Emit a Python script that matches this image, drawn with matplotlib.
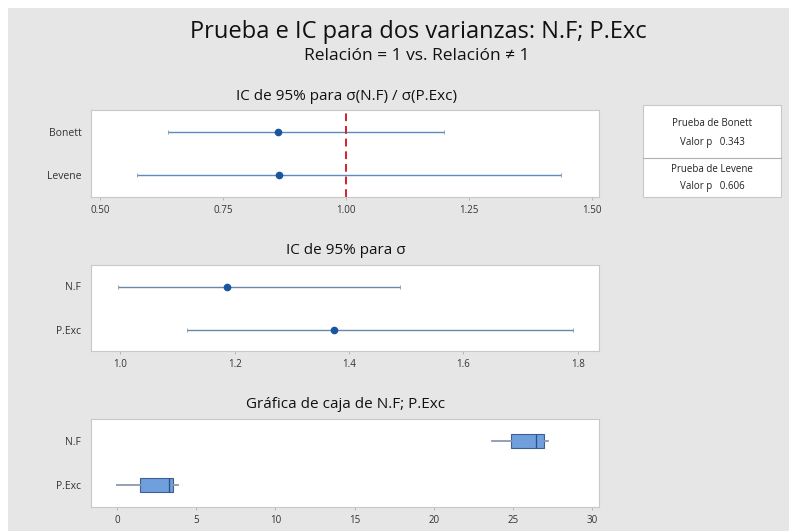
import matplotlib
matplotlib.use("Agg")
import matplotlib.pyplot as plt
from matplotlib.patches import Rectangle
from matplotlib.lines import Line2D

plt.rcParams['font.family'] = ['Open Sans', 'DejaVu Sans']

# ---------------- data ----------------
ratio_methods = ["Bonett", "Levene"]
ratio_est = [0.862, 0.864]
ratio_lo = [0.638, 0.575]
ratio_hi = [1.199, 1.437]
ratio_ticks = [0.50, 0.75, 1.00, 1.25, 1.50]

sigma_groups = ["N.F", "P.Exc"]
sigma_est = [1.186, 1.373]
sigma_lo = [0.996, 1.116]
sigma_hi = [1.490, 1.791]
sigma_ticks = [1.0, 1.2, 1.4, 1.6, 1.8]

box_groups = ["N.F", "P.Exc"]
box_min = [23.7, 0.0]
box_q1 = [24.9, 1.45]
box_med = [26.45, 3.3]
box_q3 = [26.95, 3.5]
box_max = [27.2, 3.85]
box_ticks = [0, 5, 10, 15, 20, 25, 30]

test_names = ["Prueba de Bonett", "Prueba de Levene"]
p_values = [0.343, 0.606]

# ---------------- layout helpers ----------------
W, H = 789, 531
fig = plt.figure(figsize=(W / 100, H / 100), dpi=100)
fig.patch.set_facecolor("white")

BG = "#e6e6e6"
fig.patches.append(Rectangle((8 / W, 0), 1 - 8 / W, 1 - 8 / H, transform=fig.transFigure,
                             facecolor=BG, edgecolor="none", zorder=-10))


def fx(x):
    return x / W


def fy(y):
    return 1 - y / H


def add_ax(x0, x1, y0, y1):
    ax = fig.add_axes([fx(x0), fy(y1), fx(x1) - fx(x0), (y1 - y0) / H])
    ax.set_facecolor("white")
    for s in ax.spines.values():
        s.set_color("#c8c8c8")
        s.set_linewidth(0.8)
    ax.tick_params(axis="x", length=2.5, width=0.6, color="#b0b0b0", labelsize=7,
                   labelcolor="#333333", pad=3)
    ax.tick_params(axis="y", length=0, labelsize=7.5, labelcolor="#333333", pad=7)
    return ax


LINE_C = "#5b8cc0"
PT_C = "#1a56a0"

# main titles
fig.text(fx(418), fy(32), "Prueba e IC para dos varianzas: N.F; P.Exc", ha="center", va="center",
         fontsize=17, color="#111111", fontweight="medium")
fig.text(fx(417), fy(56), "Relación = 1 vs. Relación \u2260 1", ha="center", va="center",
         fontsize=12.5, color="#111111", fontweight="medium")

# ---------------- panel 1 ----------------
ax1 = add_ax(91, 599, 110, 197)
ypos = [1, 0]
for i, m in enumerate(ratio_methods):
    ax1.hlines(ypos[i], ratio_lo[i], ratio_hi[i], color=LINE_C, lw=1.0)
    ax1.plot([ratio_lo[i], ratio_hi[i]], [ypos[i]] * 2, "|", color="#7f98b5", ms=3, mew=0.6)
    ax1.plot(ratio_est[i], ypos[i], "o", color=PT_C, ms=4.5)
ax1.axvline(1.0, color="#d0202f", lw=1.4, ls=(0, (4, 2.5)))
ax1.set_xlim(0.482, 1.514)
ax1.set_ylim(-0.5, 1.5)
ax1.set_xticks(ratio_ticks)
ax1.set_xticklabels([f"{t:.2f}" for t in ratio_ticks])
ax1.set_yticks(ypos)
ax1.set_yticklabels(ratio_methods)
fig.text(fx(346), fy(96), "IC de 95% para \u03c3(N.F) / \u03c3(P.Exc)", ha="center", va="center",
         fontsize=11, color="#111111")

# ---------------- panel 2 ----------------
ax2 = add_ax(91, 599, 265, 351)
for i, g in enumerate(sigma_groups):
    ax2.hlines(ypos[i], sigma_lo[i], sigma_hi[i], color="#6a86a8", lw=1.0)
    ax2.plot([sigma_lo[i], sigma_hi[i]], [ypos[i]] * 2, "|", color="#7f98b5", ms=3, mew=0.6)
    ax2.plot(sigma_est[i], ypos[i], "o", color=PT_C, ms=4.5)
ax2.set_xlim(0.949, 1.837)
ax2.set_ylim(-0.5, 1.5)
ax2.set_xticks(sigma_ticks)
ax2.set_xticklabels([f"{t:.1f}" for t in sigma_ticks])
ax2.set_yticks(ypos)
ax2.set_yticklabels(sigma_groups)
fig.text(fx(346), fy(251), "IC de 95% para \u03c3", ha="center", va="center",
         fontsize=11, color="#111111")

# ---------------- panel 3 ----------------
ax3 = add_ax(91, 599, 419, 507)
stats = []
for i, g in enumerate(box_groups):
    stats.append(dict(label=g, whislo=box_min[i], q1=box_q1[i], med=box_med[i],
                      q3=box_q3[i], whishi=box_max[i], fliers=[]))
ax3.bxp(stats, positions=ypos, vert=False, widths=0.32, patch_artist=True, showcaps=False,
        boxprops=dict(facecolor="#6f9fdc", edgecolor="#3d5f92", linewidth=0.8),
        medianprops=dict(color="#2f4f80", linewidth=0.9),
        whiskerprops=dict(color="#8a9ab0", linewidth=1.3))
ax3.set_xlim(-1.65, 30.44)
ax3.set_ylim(-0.5, 1.5)
ax3.set_xticks(box_ticks)
ax3.set_xticklabels([str(t) for t in box_ticks])
ax3.set_yticks(ypos)
ax3.set_yticklabels(box_groups)
fig.text(fx(346), fy(405), "Gráfica de caja de N.F; P.Exc", ha="center", va="center",
         fontsize=11, color="#111111")

# ---------------- p-value table ----------------
bx0, bx1, by0, by1, bmid = 643, 781, 105, 197, 158
fig.patches.append(Rectangle((fx(bx0), fy(by1)), fx(bx1) - fx(bx0), (by1 - by0) / H,
                             transform=fig.transFigure, facecolor="white",
                             edgecolor="#c8c8c8", lw=0.8))
fig.lines.append(Line2D([fx(bx0), fx(bx1)], [fy(bmid), fy(bmid)], transform=fig.transFigure,
                        color="#b0b0b0", lw=0.8))
cx = (bx0 + bx1) / 2
rows_y = [(123, 142), (170, 187)]
for i, name in enumerate(test_names):
    fig.text(fx(cx), fy(rows_y[i][0]), name, ha="center", va="center", fontsize=7, color="#222222")
    fig.text(fx(cx), fy(rows_y[i][1]), f"Valor p   {p_values[i]:.3f}", ha="center", va="center",
             fontsize=7, color="#222222")

fig.savefig("out.png", dpi=100, facecolor=fig.get_facecolor())
